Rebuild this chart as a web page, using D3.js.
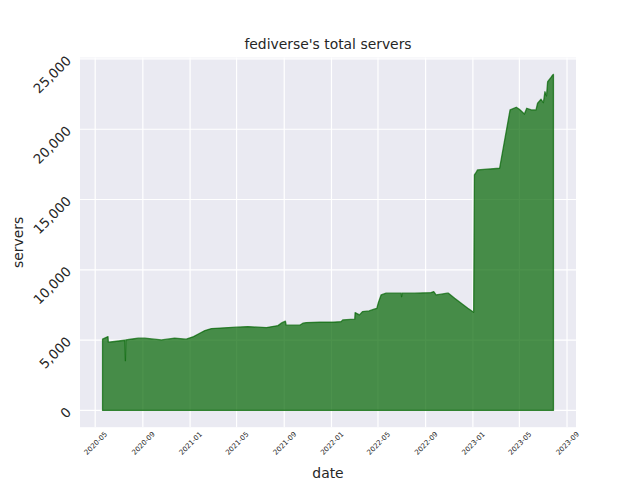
<!DOCTYPE html>
<html>
<head>
<meta charset="utf-8">
<script src="https://cdn.jsdelivr.net/npm/d3@7"></script>
<style>
  html, body { margin: 0; padding: 0; background: #ffffff; }
  svg { display: block; font-family: "DejaVu Sans", sans-serif; }
</style>
</head>
<body>
<svg id="chart" width="640" height="480"></svg>
<script>
// ---- data ----
const dates = [
  "2020-05-20","2020-06-03","2020-06-04","2020-06-20","2020-07-16","2020-07-17","2020-07-18","2020-07-19",
  "2020-08-05","2020-08-20","2020-09-06","2020-10-19","2020-11-22","2020-12-22","2021-01-10","2021-01-26",
  "2021-02-08","2021-02-25","2021-04-10","2021-04-30","2021-05-30","2021-07-17","2021-08-16","2021-08-24",
  "2021-09-04","2021-09-06","2021-10-11","2021-10-19","2021-10-28","2021-12-01","2022-01-05","2022-01-26",
  "2022-01-30","2022-03-02","2022-03-03","2022-03-14","2022-03-22","2022-04-08","2022-04-21","2022-04-28",
  "2022-05-02","2022-05-09","2022-05-22","2022-06-26","2022-06-30","2022-07-01","2022-07-02","2022-08-03",
  "2022-09-15","2022-09-22","2022-09-28","2022-10-11","2022-10-27","2022-10-30","2022-11-15","2022-12-02",
  "2022-12-19","2023-01-03","2023-01-05","2023-01-08","2023-01-13","2023-03-11","2023-04-07","2023-04-23",
  "2023-05-01","2023-05-14","2023-05-20","2023-06-01","2023-06-13","2023-06-17","2023-06-26","2023-07-02",
  "2023-07-06","2023-07-10","2023-07-13","2023-07-20","2023-07-26","2023-07-28"
];
const servers = [
  5064, 5249, 4850, 4900, 4990, 4990, 3540, 5014,
  5080, 5135, 5135, 5014, 5135, 5064, 5250, 5490,
  5675, 5817, 5890, 5917, 5960, 5889, 6031, 6202,
  6344, 6060, 6060, 6202, 6244, 6270, 6270, 6315,
  6436, 6486, 6956, 6792, 7027, 7076, 7197, 7260,
  7667, 8214, 8335, 8335, 8335, 8090, 8335, 8335,
  8378, 8449, 8214, 8264, 8335, 8335, 7980, 7624,
  7268, 6984, 16749, 16870, 17104, 17225, 21371, 21564,
  21421, 21087, 21493, 21371, 21371, 21848, 22133, 21891,
  22673, 22367, 23384, 23626, 23860, 23900
];
const yTicks = [0, 5000, 10000, 15000, 20000, 25000];
const title = "fediverse's total servers";
const xLabel = "date";
const yLabel = "servers";

// ---- layout ----
const W = 640, H = 480;
const margin = { left: 80, right: 64, top: 57.6, bottom: 52.8 };
const pw = W - margin.left - margin.right;
const ph = H - margin.top - margin.bottom;

const parse = d3.utcParse("%Y-%m-%d");
const data = dates.map((d, i) => ({ date: parse(d), value: servers[i] }));

const xExt = d3.extent(data, d => d.date);
const span = xExt[1] - xExt[0];
const x = d3.scaleUtc()
  .domain([new Date(+xExt[0] - 0.05 * span), new Date(+xExt[1] + 0.05 * span)])
  .range([0, pw]);
const yMax = d3.max(data, d => d.value);
const y = d3.scaleLinear()
  .domain([0 - 0.05 * yMax, yMax * 1.05])
  .range([ph, 0]);

const svg = d3.select("#chart");
const g = svg.append("g").attr("transform", `translate(${margin.left},${margin.top})`);

g.append("rect").attr("width", pw).attr("height", ph).attr("fill", "#EAEAF2");

const xTicks = x.ticks(d3.utcMonth.every(4));
// grid
g.append("g").selectAll("line.vx").data(xTicks).join("line")
  .attr("x1", d => x(d)).attr("x2", d => x(d)).attr("y1", 0).attr("y2", ph)
  .attr("stroke", "#ffffff").attr("stroke-width", 1.2);
g.append("g").selectAll("line.hy").data(yTicks).join("line")
  .attr("x1", 0).attr("x2", pw).attr("y1", d => y(d)).attr("y2", d => y(d))
  .attr("stroke", "#ffffff").attr("stroke-width", 1.2);

// area
const area = d3.area().x(d => x(d.date)).y0(y(0)).y1(d => y(d.value));
g.append("path").datum(data).attr("d", area)
  .attr("fill", "darkgreen").attr("fill-opacity", 0.7)
  .attr("stroke", "darkgreen").attr("stroke-opacity", 0.7)
  .attr("stroke-width", 1.3).attr("stroke-linejoin", "round");

// x axis
const xAxis = d3.axisBottom(x).tickValues(xTicks).tickFormat(d3.utcFormat("%Y-%m")).tickSize(0).tickPadding(0);
const gx = g.append("g").attr("transform", `translate(0,${ph})`).call(xAxis);
gx.select(".domain").remove();
gx.selectAll("text")
  .attr("y", 0).attr("dy", "0.35em")
  .attr("transform", "translate(0,16) rotate(-45)")
  .attr("text-anchor", "middle")
  .attr("fill", "#262626")
  .style("font-size", "7px").style("font-family", "DejaVu Sans");

// y axis
const yAxis = d3.axisLeft(y).tickValues(yTicks).tickFormat(d3.format(",")).tickSize(0).tickPadding(0);
const gy = g.append("g").call(yAxis);
gy.select(".domain").remove();
gy.selectAll("text")
  .attr("x", 0).attr("dy", 0)
  .attr("transform", "translate(-8,2) rotate(-45)")
  .attr("text-anchor", "end")
  .attr("fill", "#262626")
  .style("font-size", "13.3px").style("font-family", "DejaVu Sans");

// title and labels
svg.append("text").attr("x", margin.left + pw / 2).attr("y", 49)
  .attr("text-anchor", "middle").attr("fill", "#262626")
  .style("font-size", "13.9px").text(title);
svg.append("text").attr("x", margin.left + pw / 2).attr("y", 478)
  .attr("text-anchor", "middle").attr("fill", "#262626")
  .style("font-size", "13.9px").text(xLabel);
svg.append("text").attr("transform", `translate(23,${margin.top + ph / 2}) rotate(-90)`)
  .attr("text-anchor", "middle").attr("fill", "#262626")
  .style("font-size", "13.9px").text(yLabel);
</script>
</body>
</html>
